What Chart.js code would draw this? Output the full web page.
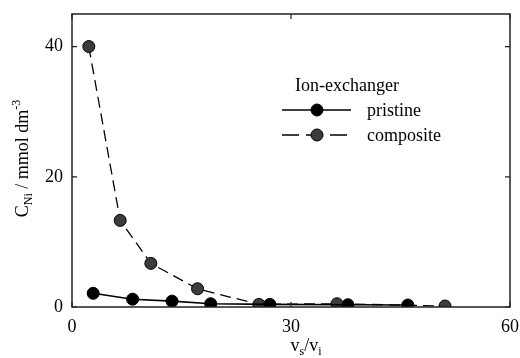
<!DOCTYPE html>
<html lang="en">
<head>
<meta charset="UTF-8">
<title>Ni concentration</title>
<script src="https://cdn.jsdelivr.net/npm/chart.js@4.4.1/dist/chart.umd.min.js"></script>
<style>
  body { margin: 0; background: #fff; }
  #wrap { width: 520px; height: 358px; }
</style>
</head>
<body>
<div id="wrap"><canvas id="c" width="520" height="358"></canvas></div>
<script>
    // values
    var xPristine = [2.9, 8.3, 13.7, 19.0, 27.1, 37.8, 46.0];
    var yPristine = [2.1, 1.2, 0.9, 0.5, 0.4, 0.35, 0.3];
    var xComposite = [2.3, 6.6, 10.8, 17.2, 25.6, 36.3, 51.1];
    var yComposite = [40, 13.3, 6.7, 2.8, 0.4, 0.5, 0.15];
    var xTicks = [0, 30, 60];
    var yTicks = [0, 20, 40];
    var legendTitle = 'Ion-exchanger';
    var seriesNames = ['pristine', 'composite'];

    var serif = "'Liberation Serif', 'Times New Roman', serif";

    function toPoints(xs, ys) {
        return xs.map(function(x, i) { return { x: x, y: ys[i] }; });
    }

    // frame, inner ticks, axis titles with sub/superscripts, legend
    var decorPlugin = {
        id: 'decor',
        afterDraw: function(chart) {
            var ctx = chart.ctx;
            var a = chart.chartArea;
            var xs = chart.scales.x, ys = chart.scales.y;
            ctx.save();
            ctx.strokeStyle = '#222';
            ctx.lineWidth = 1.5;
            ctx.strokeRect(a.left, a.top, a.right - a.left, a.bottom - a.top);

            ctx.lineWidth = 1.2;
            ctx.beginPath();
            xTicks.forEach(function(v) {
                var px = xs.getPixelForValue(v);
                ctx.moveTo(px, a.bottom); ctx.lineTo(px, a.bottom - 5);
                ctx.moveTo(px, a.top); ctx.lineTo(px, a.top + 5);
            });
            yTicks.forEach(function(v) {
                var py = ys.getPixelForValue(v);
                ctx.moveTo(a.left, py); ctx.lineTo(a.left + 5, py);
                ctx.moveTo(a.right, py); ctx.lineTo(a.right - 5, py);
            });
            ctx.stroke();

            ctx.fillStyle = '#000';
            ctx.textBaseline = 'alphabetic';

            // x title: v_s/v_i
            var big = '18px ' + serif, small = '12px ' + serif;
            var parts = [['v', big, 0], ['s', small, 4], ['/v', big, 0], ['i', small, 4]];
            var total = 0;
            parts.forEach(function(p) { ctx.font = p[1]; total += ctx.measureText(p[0]).width; });
            var x = 306 - total / 2, base = 351;
            parts.forEach(function(p) {
                ctx.font = p[1];
                ctx.fillText(p[0], x, base + p[2]);
                x += ctx.measureText(p[0]).width;
            });

            // y title: C_Ni / mmol dm^-3
            var yparts = [['C', big, 0], ['Ni', small, 4], [' / mmol dm', big, 0], ['-3', small, -8]];
            total = 0;
            yparts.forEach(function(p) { ctx.font = p[1]; total += ctx.measureText(p[0]).width; });
            ctx.translate(28, (a.top + a.bottom) / 2 - 2);
            ctx.rotate(-Math.PI / 2);
            x = -total / 2;
            yparts.forEach(function(p) {
                ctx.font = p[1];
                ctx.fillText(p[0], x, p[2]);
                x += ctx.measureText(p[0]).width;
            });
            ctx.setTransform(1, 0, 0, 1, 0, 0);

            // legend
            ctx.font = big;
            ctx.fillText(legendTitle, 295, 91);
            var rows = [110, 135];
            chart.data.datasets.forEach(function(ds, i) {
                var ly = rows[i];
                ctx.strokeStyle = '#000';
                ctx.lineWidth = ds.borderWidth;
                ctx.setLineDash(ds.borderDash ? [17, 7] : []);
                ctx.beginPath();
                ctx.moveTo(282, ly); ctx.lineTo(351, ly);
                ctx.stroke();
                ctx.setLineDash([]);
                ctx.beginPath();
                ctx.arc(317, ly, ds.pointRadius, 0, Math.PI * 2);
                ctx.fillStyle = ds.pointBackgroundColor;
                ctx.fill();
                ctx.lineWidth = 1;
                ctx.stroke();
                ctx.fillStyle = '#000';
                ctx.textBaseline = 'middle';
                ctx.fillText(seriesNames[i], 367, ly + 1);
                ctx.textBaseline = 'alphabetic';
            });
            ctx.restore();
        }
    };

    var chart = new Chart(document.getElementById('c'), {
        type: 'scatter',
        data: {
            datasets: [{
                label: seriesNames[0],
                data: toPoints(xPristine, yPristine),
                showLine: true,
                borderColor: '#000',
                borderWidth: 1.6,
                pointRadius: 6,
                pointBackgroundColor: '#000',
                pointBorderColor: '#000',
                pointBorderWidth: 1
            }, {
                label: seriesNames[1],
                data: toPoints(xComposite, yComposite),
                showLine: true,
                borderColor: '#000',
                borderWidth: 1.3,
                borderDash: [11, 6],
                pointRadius: 6,
                pointBackgroundColor: '#3c3c3c',
                pointBorderColor: '#000',
                pointBorderWidth: 1
            }]
        },
        options: {
            responsive: false,
            animation: false,
            layout: { padding: { left: 0, top: 14, right: 10, bottom: 0 } },
            plugins: {
                legend: { display: false },
                tooltip: { enabled: false }
            },
            scales: {
                x: {
                    type: 'linear',
                    min: 0,
                    max: 60,
                    afterBuildTicks: function(scale) {
                        scale.ticks = xTicks.map(function(v) { return { value: v }; });
                    },
                    afterFit: function(scale) {
                        scale.height = 51;
                        scale.paddingLeft = 0;
                        scale.paddingRight = 0;
                    },
                    grid: { drawOnChartArea: false, drawTicks: false },
                    border: { display: false },
                    ticks: { padding: 9, color: '#000', font: { family: serif, size: 18 }, maxRotation: 0 }
                },
                y: {
                    type: 'linear',
                    min: 0,
                    max: 45,
                    afterBuildTicks: function(scale) {
                        scale.ticks = yTicks.map(function(v) { return { value: v }; });
                    },
                    afterFit: function(scale) {
                        scale.width = 72;
                        scale.paddingTop = 0;
                        scale.paddingBottom = 0;
                    },
                    grid: { drawOnChartArea: false, drawTicks: false },
                    border: { display: false },
                    ticks: { padding: 9, color: '#000', font: { family: serif, size: 18 } }
                }
            }
        },
        plugins: [decorPlugin]
    });
</script>
</body>
</html>
